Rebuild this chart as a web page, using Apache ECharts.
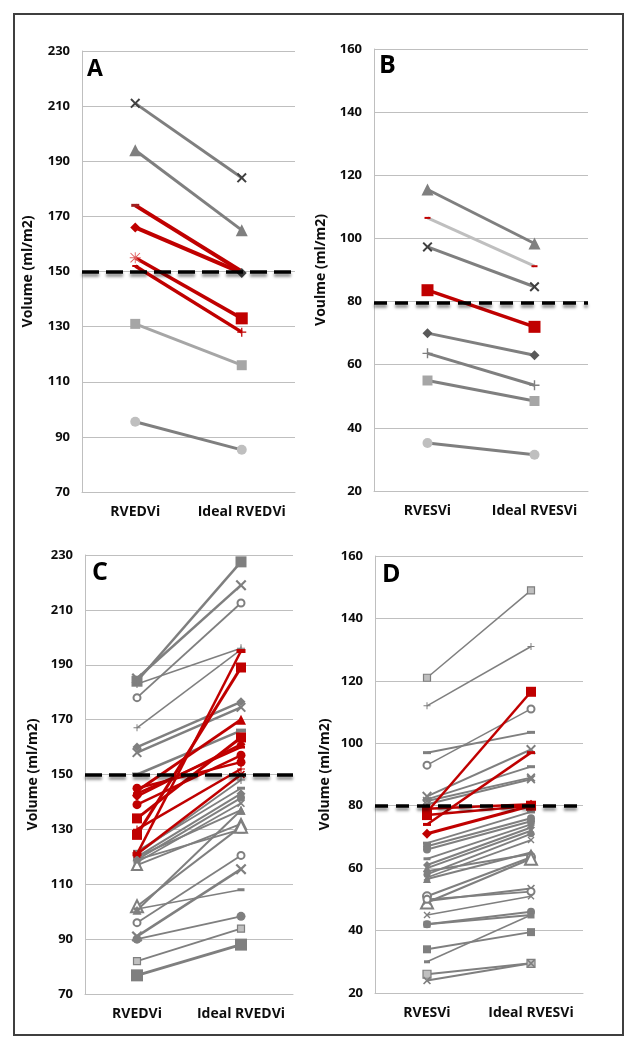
<!DOCTYPE html>
<html><head><meta charset="utf-8">
<script src="https://cdn.jsdelivr.net/npm/echarts@6/dist/echarts.min.js"></script>
<style>html,body{margin:0;padding:0;background:#fff}#c{width:636px;height:1050px}</style>
</head><body><div id="c"></div>
<script>
// ---- categories & axes ----
const edvCategories = ['RVEDVi', 'Ideal RVEDVi'];
const esvCategories = ['RVESVi', 'Ideal RVESVi'];
const edvTicks = [70, 90, 110, 130, 150, 170, 190, 210, 230];
const esvTicks = [20, 40, 60, 80, 100, 120, 140, 160];
const panelLetters = ['A', 'B', 'C', 'D'];
const axisNames = ['Volume (ml/m2)', 'Voulme (ml/m2)', 'Volume (ml/m2)', 'Volume (ml/m2)'];
const thresholdValues = [150, 79.5, 150, 80];

// ---- values: [measured, ideal] per patient ----
const panelA = [[211, 184], [194, 165], [174, 150], [166, 149.5], [155, 133], [152, 128], [131, 116], [95.5, 85.3]];
const panelB = [[115.5, 98.4], [106.5, 91.2], [97.3, 84.7], [83.6, 72], [70, 63], [63.6, 53.5], [55, 48.5], [35.2, 31.5]];
const panelC = [[184, 227.5], [185, 219], [178, 212.5], [183, 196], [167, 195.5], [160, 176.5], [158, 174.5], [150, 166],
  [121, 148], [120, 143], [119, 141.5], [118, 139.5], [120, 137], [117, 132], [122, 145], [119, 130],
  [102, 131], [100.5, 137], [101, 108], [96, 120.5], [91, 115.5], [90, 98.3], [82, 93.8], [76.8, 88],
  [121, 195], [128, 189], [144, 170], [134, 163.5], [142, 161], [139, 157], [145, 154.5], [143, 160], [121, 150], [130, 152]];
const panelD = [[121, 149], [112, 131], [97, 103.5], [93, 111], [83, 98], [82, 92.5], [81.5, 89], [80.5, 88.5],
  [68, 78], [67, 76], [66, 75], [63, 74], [61, 73], [60, 72], [58, 71], [57, 69], [56.5, 65], [59, 64.5],
  [51, 63.5], [49, 63], [49.5, 53.5], [50, 52.5], [45, 51], [42, 46], [42, 45], [34, 39.5], [30, 45], [26, 29.5], [24, 29.5],
  [78, 116.5], [74, 97], [77, 80], [71, 80], [79, 80.5]];

// ---- styling (kept apart from values) ----
const GRAY = '#7f7f7f', RED = '#c00000', DARK = '#404040', LG = '#a6a6a6', VLG = '#bfbfbf';
const SYM = {
  x: 'path://M0,1.4L1.4,0L5,3.6L8.6,0L10,1.4L6.4,5L10,8.6L8.6,10L5,6.4L1.4,10L0,8.6L3.6,5Z',
  plus: 'path://M4.3,0H5.7V4.3H10V5.7H5.7V10H4.3V5.7H0V4.3H4.3Z',
  star: 'path://M4.6,0H5.4V4.6H10V5.4H5.4V10H4.6V5.4H0V4.6H4.6Z M1,0.4L5,4.4L9,0.4L9.6,1L5.6,5L9.6,9L9,9.6L5,5.6L1,9.6L0.4,9L4.4,5L0.4,1Z',
  dash: 'rect'
};
function mk(sym, size, fill, border) { return { sym, size, fill, border }; }
function lk(line, w, start, end, z) { return { line, w, start, end: end || start, z: z || 2 }; }
function g(w, sym, size, fill, border) { const m = mk(sym, size, fill || GRAY, border); return lk(GRAY, w, m, m, 2); }
function r(w, sym, size) { const m = mk(sym, size, RED); return lk(RED, w, m, m, 3); }

const looksA = [
  lk(GRAY, 3, mk('x', 10, DARK), null),
  lk(GRAY, 3, mk('triangle', 12, GRAY)),
  lk(RED, 4, mk('dash', [8, 3], '#a02020'), mk('dash', [1, 1], RED), 3),
  lk(RED, 4, mk('diamond', 10, RED), mk('diamond', 10, DARK), 3),
  lk(RED, 3.5, mk('star', 11, '#e06060'), mk('rect', 12, RED), 3),
  lk(RED, 3.5, mk('dash', [6, 2], RED), mk('plus', 9, RED), 3),
  lk(LG, 3, mk('rect', 10, LG)),
  lk(GRAY, 3, mk('circle', 10, VLG))
];
const looksB = [
  lk(GRAY, 3, mk('triangle', 12, GRAY)),
  lk(VLG, 3, mk('dash', [6, 2], RED)),
  lk(GRAY, 3, mk('x', 10, DARK)),
  lk(RED, 3.5, mk('rect', 12, RED), null, 3),
  lk(GRAY, 3, mk('diamond', 10, '#595959')),
  lk(GRAY, 3, mk('plus', 10, GRAY)),
  lk(GRAY, 3, mk('rect', 10, LG)),
  lk(GRAY, 3, mk('circle', 10, VLG))
];
const looksC = [
  g(2.5, 'rect', 11), g(2.5, 'x', 11), g(1.8, 'emptyCircle', 7), g(1.5, 'plus', 8), g(1.5, 'plus', 7), g(2.5, 'diamond', 9), g(2.5, 'x', 10), g(2.5, 'dash', [10, 4]),
  g(1.8, 'plus', 8), g(2, 'diamond', 9), g(2, 'circle', 8), g(1.8, 'x', 8), g(2, 'triangle', 9), g(1.8, 'emptyTriangle', 10), g(1.8, 'dash', [8, 3]), g(1.8, 'triangle', 8),
  g(2, 'emptyTriangle', 12), g(2, 'triangle', 9), g(1.5, 'dash', [7, 3]), g(1.8, 'emptyCircle', 7), g(2.5, 'x', 11), g(2, 'circle', 9), g(1.8, 'rect', 7, VLG, GRAY), g(3, 'rect', 12),
  r(2.5, 'dash', [9, 4]), r(3, 'rect', 10), r(3, 'triangle', 10), r(3, 'rect', 10), r(2.5, 'diamond', 9), r(2.5, 'circle', 9), r(2.5, 'circle', 9), r(2.5, 'dash', [8, 3]), r(2.5, 'x', 8), r(2.5, 'plus', 8)
];
const looksD = [
  g(1.5, 'rect', 7, VLG, GRAY), g(1.5, 'plus', 7), g(2, 'dash', [8, 3]), g(1.5, 'emptyCircle', 7), g(2, 'x', 10), g(1.8, 'dash', [8, 3]), g(2, 'x', 9), g(2, 'x', 9),
  g(1.8, 'dash', [8, 3]), g(2, 'circle', 8), g(2, 'circle', 8), g(1.8, 'dash', [7, 3]), g(2, 'diamond', 8), g(2, 'triangle', 8), g(2, 'circle', 7), g(1.8, 'x', 7), g(2, 'triangle', 8), g(2, 'diamond', 8),
  g(2, 'emptyCircle', 8), g(2, 'emptyTriangle', 12), g(2, 'x', 8), g(1.8, 'emptyCircle', 7), g(1.5, 'x', 7), g(2, 'circle', 8), g(2, 'rect', 7), g(2, 'rect', 8), g(1.5, 'dash', [6, 3]), g(2, 'rect', 8, VLG, GRAY), g(2, 'x', 8),
  r(2.5, 'rect', 10), r(2.5, 'dash', [8, 3]), r(2.5, 'rect', 10), r(3, 'diamond', 10), r(2.5, 'diamond', 9)
];

const FONT = '"Open Sans", "Liberation Sans", sans-serif';
const TXT = '#0d0d0d';
const grids = [
  { left: 82, top: 51, width: 213, height: 441 },
  { left: 374, top: 49, width: 214, height: 442 },
  { left: 85, top: 555, width: 208, height: 439 },
  { left: 375, top: 556, width: 208, height: 437 }
];
const nameGaps = [47, 46, 45, 43];
const letterPos = [[87, 58, 23], [379, 53, 25], [92, 560, 25], [382, 562, 25]];
const dashPatterns = [[17, 7], [13, 8], [17, 7], [13, 8]];

function symbolItem(v, m) {
  const isEmpty = typeof m.sym === 'string' && m.sym.indexOf('empty') === 0;
  const s = SYM[m.sym] || m.sym;
  return {
    value: v, symbol: s, symbolSize: m.size,
    itemStyle: {
      color: m.fill, borderColor: m.border || m.fill,
      borderWidth: isEmpty ? 1.6 : (m.border ? 1.2 : 0)
    }
  };
}

const series = [];
const panels = [[panelA, looksA], [panelB, looksB], [panelC, looksC], [panelD, looksD]];
panels.forEach(([pairs, looks], idx) => {
  pairs.forEach((p, i) => {
    const L = looks[i];
    series.push({
      type: 'line', xAxisIndex: idx, yAxisIndex: idx, z: L.z, silent: true,
      showSymbol: true, showAllSymbol: true,
      lineStyle: { color: L.line, width: L.w },
      data: [symbolItem(p[0], L.start), symbolItem(p[1], L.end)]
    });
  });
  series.push({
    type: 'line', xAxisIndex: idx, yAxisIndex: idx, z: 4, silent: true, showSymbol: false,
    lineStyle: { width: 0, opacity: 0 },
    data: [null, null],
    markLine: {
      silent: true, symbol: ['none', 'none'], label: { show: false }, animation: false,
      lineStyle: { color: '#000', width: 3.5, type: dashPatterns[idx], shadowColor: 'rgba(0,0,0,0.45)', shadowBlur: 3, shadowOffsetY: 3 },
      emphasis: { disabled: true },
      data: [{ yAxis: thresholdValues[idx] }]
    }
  });
});

const xAxis = grids.map((gd, i) => ({
  gridIndex: i, type: 'category', data: (i % 2 === 0) ? edvCategories : esvCategories, boundaryGap: true,
  axisLine: { lineStyle: { color: VLG, width: 1 } }, axisTick: { show: false },
  axisLabel: { interval: 0, margin: 13, fontWeight: 'bold', fontSize: 14, color: TXT, fontFamily: FONT, hideOverlap: false }
}));
const yAxis = grids.map((gd, i) => {
  const t = (i % 2 === 0) ? edvTicks : esvTicks;
  return {
    gridIndex: i, type: 'value', min: t[0], max: t[t.length - 1], interval: t[1] - t[0],
    axisLine: { show: true, lineStyle: { color: VLG, width: 1 } }, axisTick: { show: false },
    splitLine: { show: true, lineStyle: { color: VLG, width: 1 } },
    axisLabel: { margin: 12, fontWeight: 'bold', fontSize: 13, color: TXT, fontFamily: FONT },
    name: axisNames[i], nameLocation: 'middle', nameGap: nameGaps[i], nameRotate: 90,
    nameTextStyle: { fontWeight: 'bold', fontSize: 14, color: TXT, fontFamily: FONT }
  };
});

const graphic = [{
  type: 'rect', shape: { x: 14, y: 14, width: 609, height: 1021 }, silent: true,
  style: { fill: 'none', stroke: '#3f3f3f', lineWidth: 2 }, z: 10
}].concat(panelLetters.map((l, i) => ({
  type: 'text', left: letterPos[i][0], top: letterPos[i][1], silent: true, z: 10,
  style: { text: l, font: 'bold ' + letterPos[i][2] + 'px ' + FONT, fill: '#000' }
})));

const chart = echarts.init(document.getElementById('c'), null, { renderer: 'canvas' });
chart.setOption({
  animation: false, backgroundColor: '#fff',
  grid: grids, xAxis, yAxis, series, graphic
});
</script></body></html>
